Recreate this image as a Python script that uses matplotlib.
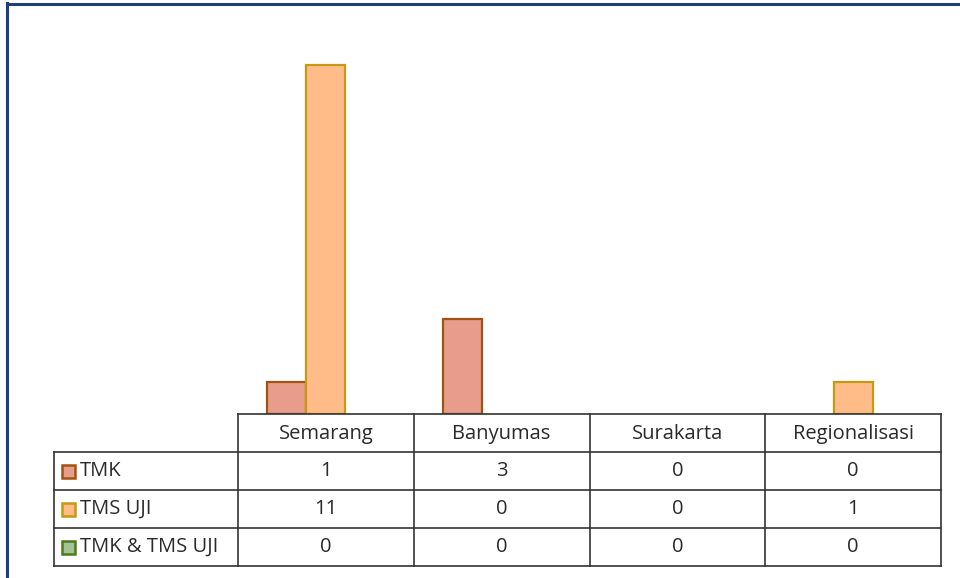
import numpy as np
import matplotlib.pyplot as plt
from matplotlib.patches import Rectangle
from matplotlib.lines import Line2D

categories = ['Semarang', 'Banyumas', 'Surakarta', 'Regionalisasi']
series = ['TMK', 'TMS UJI', 'TMK & TMS UJI']
tmk = [1, 3, 0, 0]
tms_uji = [11, 0, 0, 1]
tmk_tms_uji = [0, 0, 0, 0]

fills = ['#E89C8C', '#FFBB88', '#A5C297']
edges = ['#A4520F', '#C39A12', '#4E7A1E']

W, H = 960, 578
fig = plt.figure(figsize=(W / 100, H / 100), dpi=100)
plt.rcParams['font.family'] = ['Open Sans', 'DejaVu Sans']


def fx(px):
    return px / W


def fy(py):
    return 1 - py / H


# outer frame (only left and top visible)
fig.add_artist(Line2D([fx(7), fx(7)], [fy(3), fy(578)], color='#1F3F7A', lw=2.2))
fig.add_artist(Line2D([fx(7), fx(960)], [fy(3.5), fy(3.5)], color='#1F3F7A', lw=2.2))

x0, x1 = 238, 941
base = 414
ax = fig.add_axes([fx(x0), fy(base), fx(x1) - fx(x0), fy(33.6) - fy(base)])
ax.set_xlim(-0.5, 3.5)
ax.set_ylim(0, 12)
ax.axis('off')

x = np.arange(len(categories))
w = 0.222
data = [tmk, tms_uji, tmk_tms_uji]
for i, vals in enumerate(data):
    vals = np.array(vals, dtype=float)
    keep = vals > 0
    ax.bar((x + (i - 1) * w)[keep], vals[keep], width=w, color=fills[i],
           edgecolor=edges[i], lw=1.6)

# table
col_w = (x1 - x0) / len(categories)
rows_y = [414, 452, 490, 528, 566]
lab_x = 54
lc = '#333333'
lw = 1.2

# horizontal lines
fig.add_artist(Line2D([fx(x0), fx(x1)], [fy(414), fy(414)], color=lc, lw=lw))
for yy in rows_y[1:]:
    fig.add_artist(Line2D([fx(lab_x), fx(x1)], [fy(yy), fy(yy)], color=lc, lw=lw))
# vertical lines
fig.add_artist(Line2D([fx(lab_x), fx(lab_x)], [fy(452), fy(566)], color=lc, lw=lw))
for j in range(len(categories) + 1):
    xx = x0 + j * col_w
    fig.add_artist(Line2D([fx(xx), fx(xx)], [fy(414), fy(566)], color=lc, lw=lw))

fs = 14.5
tc = '#2a2a2a'
for j, c in enumerate(categories):
    fig.text(fx(x0 + (j + 0.5) * col_w), fy(434), c, ha='center', va='center', fontsize=fs, color=tc)

for i, s in enumerate(series):
    yc = (rows_y[i + 1] + rows_y[i + 2]) / 2
    fig.add_artist(Rectangle((fx(62), fy(yc + 6.5)), fx(13), 13 / H, facecolor=fills[i],
                             edgecolor=edges[i], lw=1.8))
    fig.text(fx(80), fy(yc), s, ha='left', va='center', fontsize=fs, color=tc)
    for j, v in enumerate(data[i]):
        fig.text(fx(x0 + (j + 0.5) * col_w), fy(yc), str(v), ha='center', va='center',
                 fontsize=fs, color=tc)

fig.savefig('out.png', dpi=100)
